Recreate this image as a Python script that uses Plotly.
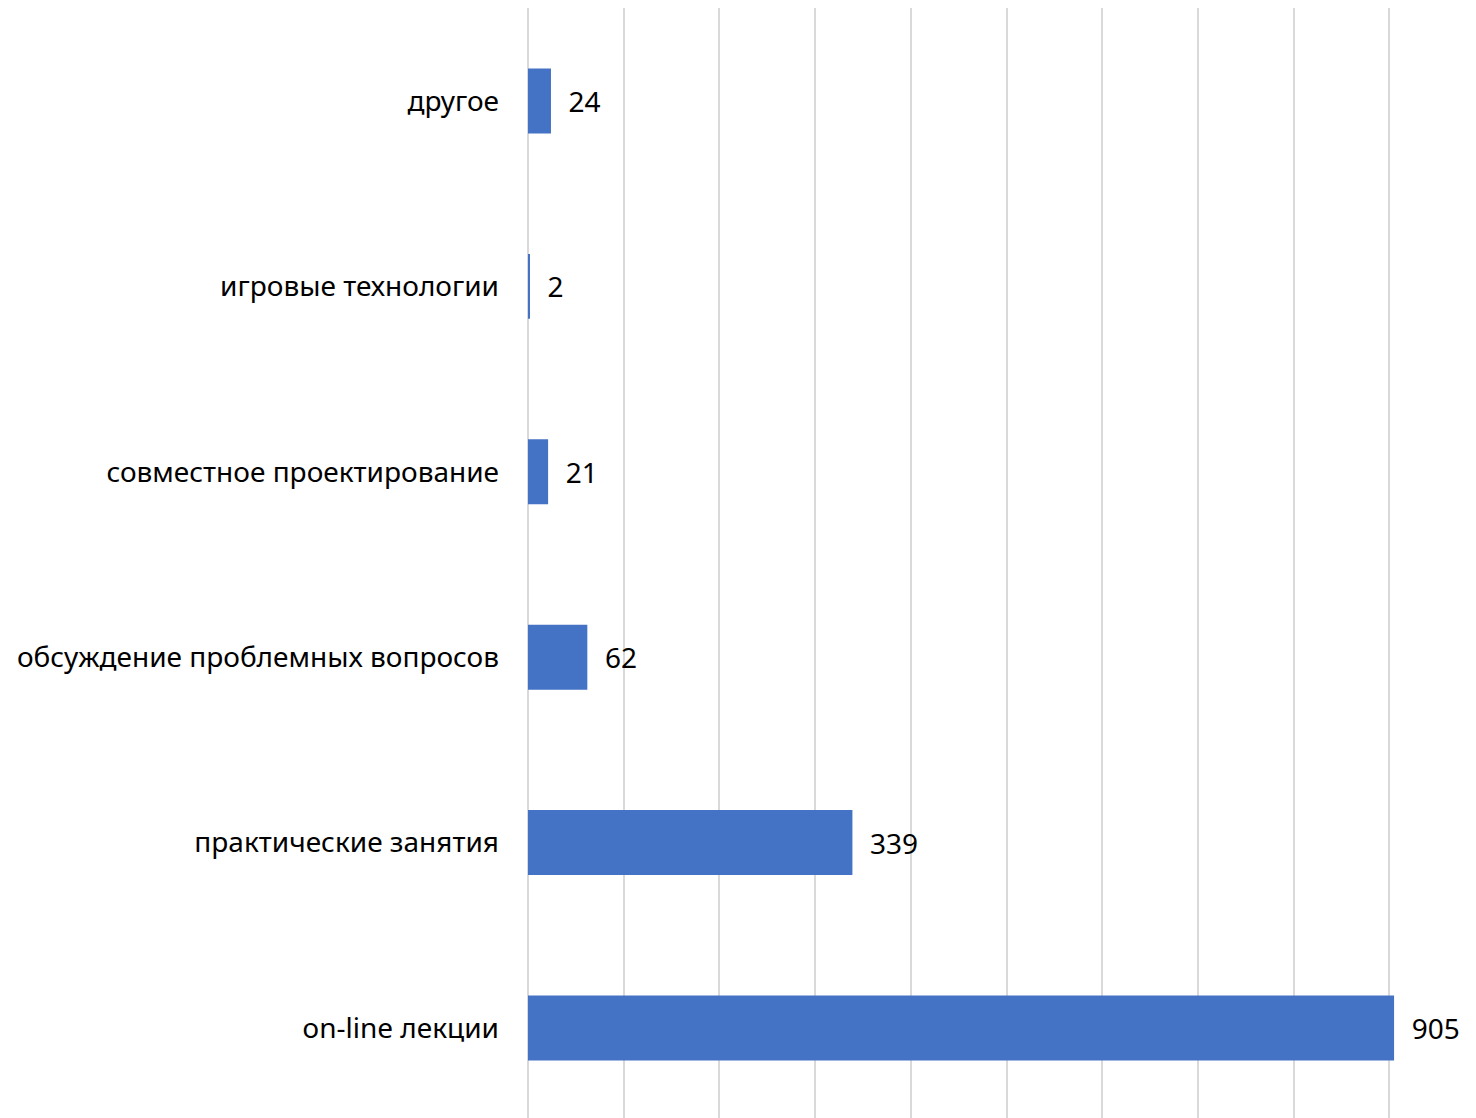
import plotly.graph_objects as go

categories = ["on-line лекции", "практические занятия", "обсуждение проблемных вопросов",
              "совместное проектирование", "игровые технологии", "другое"]
values = [905, 339, 62, 21, 2, 24]

fig = go.Figure(go.Bar(
    x=values, y=categories, orientation="h",
    marker=dict(color="#4472C4", line=dict(width=0)),
    width=0.35,
    text=values, texttemplate="\u00a0\u00a0%{x}", textposition="outside",
    textfont=dict(size=28, color="#000000", family="Noto Sans"),
    cliponaxis=False,
))

fig.update_layout(
    width=1476, height=1118,
    margin=dict(l=520, r=8, t=0, b=0),
    paper_bgcolor="white", plot_bgcolor="white",
    showlegend=False,
    font=dict(family="Noto Sans", size=28, color="#000000"),
    xaxis=dict(range=[0, 990.6], dtick=100, tick0=0, showticklabels=False,
               showgrid=True, gridcolor="#d9d9d9", gridwidth=2,
               zeroline=True, zerolinecolor="#d9d9d9", zerolinewidth=2,
               showline=False, ticks=""),
    yaxis=dict(type="category", categoryorder="array", categoryarray=categories,
               range=[-0.529, 5.502], showgrid=False, showline=False, ticks="",
               ticklabelstandoff=28, tickfont=dict(size=28, color="#000000")),
)

fig.write_html("out.html")
